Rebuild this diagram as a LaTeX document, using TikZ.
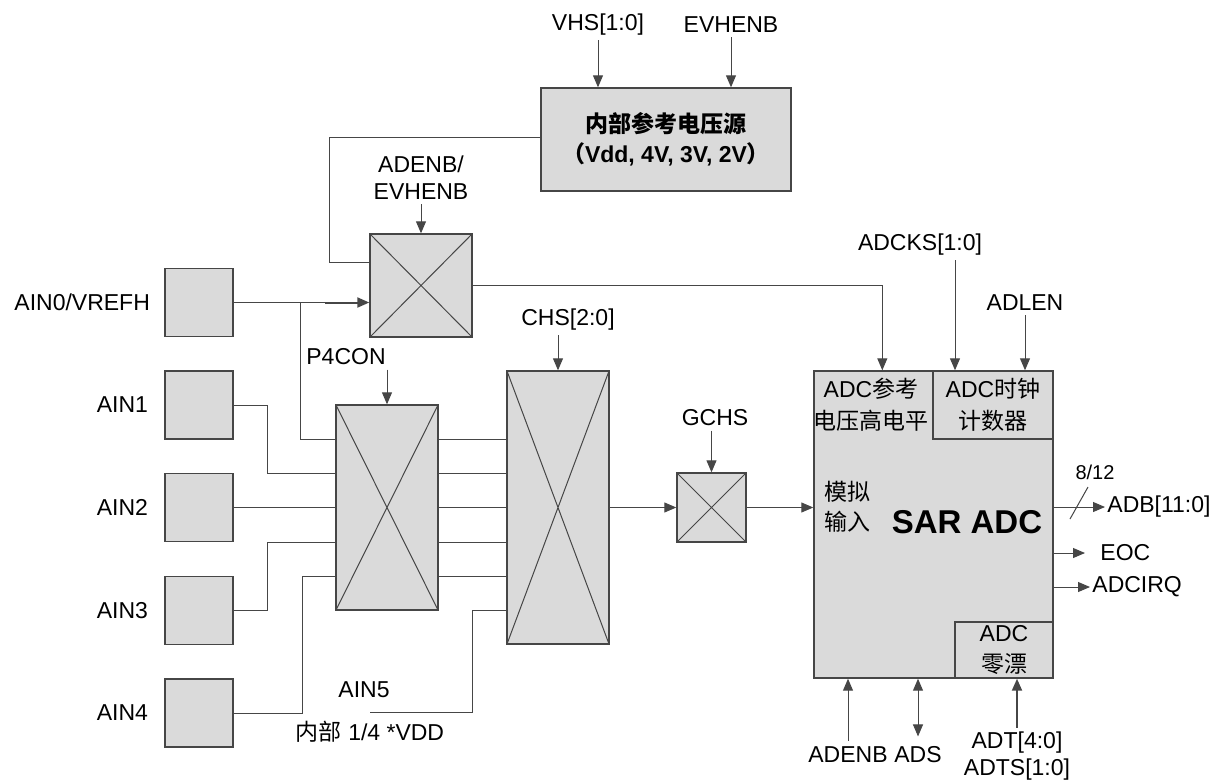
\documentclass[tikz,border=0pt]{standalone}
\usepackage{fontspec}
\setmainfont{Liberation Sans}
\newfontfamily\cjk{Noto Sans CJK SC}
\usetikzlibrary{arrows.meta,positioning}
\definecolor{boxgray}{RGB}{218,218,218}
\definecolor{linegray}{RGB}{70,70,70}
\tikzset{
  box/.style={draw=linegray, fill=boxgray, line width=0.7pt, inner sep=0pt},
  muxbox/.style={box, path picture={
      \draw[linegray, line width=0.5pt]
        (path picture bounding box.north west) -- (path picture bounding box.south east)
        (path picture bounding box.north east) -- (path picture bounding box.south west);}},
  lbl/.style={font=\fontsize{11.5}{13.5}\selectfont, inner sep=2pt, align=center},
  wire/.style={draw=linegray, line width=0.5pt},
  sig/.style={wire, -{Triangle[length=6pt,width=5pt]}},
}
\begin{document}
\begin{tikzpicture}[x=0.5pt, y=-0.5pt]
  \useasboundingbox (0,0) rectangle (1225,782);

  % internal reference source
  \node[box, minimum width=125pt, minimum height=51.5pt, align=center,
        font=\fontsize{11.5}{15}\selectfont\bfseries] (ref) at (666,139.5)
        {{\cjk 内部参考电压源}\\{\cjk （}Vdd, 4V, 3V, 2V{\cjk ）}};
  \node[lbl] (vhs) at (598,25) {VHS[1:0]};
  \node[lbl] (evhenb) at (731,25) {EVHENB};
  \draw[sig] (vhs.south) -- (vhs |- ref.north);
  \draw[sig] (evhenb.south) -- (evhenb |- ref.north);

  % reference switch
  \node[muxbox, minimum width=51pt, minimum height=51.5pt] (sw) at (421,285.5) {};
  \node[lbl] (swctl) at (421,178) {ADENB/\\EVHENB};
  \draw[sig] (swctl.south) -- (swctl |- sw.north);

  % input pads
  \node[box, minimum size=34pt] (ain0) at (199,302.5) {};
  \node[box, minimum size=34pt] (ain1) at (199,405) {};
  \node[box, minimum size=34pt] (ain2) at (199,507.5) {};
  \node[box, minimum size=34pt] (ain3) at (199,610.5) {};
  \node[box, minimum size=34pt] (ain4) at (199,713) {};
  \node[lbl, left=5pt of ain0] {AIN0/VREFH};
  \node[lbl, left=6pt of ain1] {AIN1};
  \node[lbl, left=6pt of ain2] {AIN2};
  \node[lbl, left=6pt of ain3] {AIN3};
  \node[lbl, left=6pt of ain4] {AIN4};

  % port mux, channel mux, gain mux
  \node[muxbox, minimum width=51pt, minimum height=102.5pt] (pmux) at (387,507.5) {};
  \node[lbl] (p4con) at (346,357) {P4CON};
  \draw[sig] (pmux.north |- p4con.south) -- (pmux.north);
  \node[muxbox, minimum width=51pt, minimum height=136.5pt] (cmux) at (558,507.5) {};
  \node[lbl] (chs) at (568,320) {CHS[2:0]};
  \draw[sig] (cmux.north |- chs.south) -- (cmux.north);
  \node[muxbox, minimum size=34.5pt] (gmux) at (711.5,507.5) {};
  \node[lbl] (gchs) at (715,418) {GCHS};
  \draw[sig] (gmux.north |- gchs.south) -- (gmux.north);

  % SAR ADC block
  \node[box, minimum width=119.5pt, minimum height=153.5pt] (adc) at (933.5,524.5) {};
  \node[box, minimum width=60pt, minimum height=34pt, align=center,
        font=\fontsize{11.5}{16}\selectfont] (clk) at (993,405) {ADC{\cjk 时钟}\\{\cjk 计数器}};
  \node[box, minimum width=49pt, minimum height=28pt, align=center,
        font=\fontsize{11.5}{15.5}\selectfont] (zero) at (1004,650) {ADC\\{\cjk 零漂}};
  \node[lbl, font=\fontsize{11.5}{16}\selectfont] (vref) at (871,405) {ADC{\cjk 参考}\\{\cjk 电压高电平}};
  \node[lbl, font=\fontsize{11.5}{15}\selectfont\cjk] (ain) at (847,507) {模拟\\输入};
  \node[font=\fontsize{16.5}{18}\selectfont\bfseries] (sar) at (967,522) {SAR ADC};
  \node[lbl] (adcks) at (920,245) {ADCKS[1:0]};
  \node[lbl] (adlen) at (1025,303) {ADLEN};
  \draw[sig] ([xshift=17.5pt]adcks.south) -- ([xshift=17.5pt]adcks.south |- adc.north);
  \draw[sig] (adlen.south) -- (adlen |- adc.north);

  % analog path
  \coordinate (tap) at (300,302.5);
  \coordinate (tap2) at (325,302.5);
  \draw[wire] (ain0.east) -- (tap2);
  \draw[sig, line width=1pt] (tap2) -- (sw.west |- tap);
  \draw[wire] (tap) |- (pmux.west |- 0,439);
  \coordinate (fb) at (329,262);
  \draw[wire] (ref.west |- 0,137) -| (fb) -- (sw.west |- fb);
  \draw[sig] (sw.east) -| ([xshift=34.5pt]adc.north west);
  \draw[wire] (ain1.east) -- ++(34,0) |- (pmux.west |- 0,473);
  \draw[wire] (ain2.east) -- (pmux.west |- ain2.east);
  \draw[wire] (ain3.east) -- ++(34,0) |- (pmux.west |- 0,542);
  \draw[wire] (ain4.east) -- ++(69,0) |- (pmux.west |- 0,576);
  \foreach \y in {439,473,507.5,542,576}
    \draw[wire] (pmux.east |- 0,\y) -- (cmux.west |- 0,\y);
  \coordinate (ain5end) at (370,712);
  \draw[wire] (ain5end) -- ++(102,0) |- (cmux.west |- 0,610);
  \node[lbl] (ain5) at (364,690) {AIN5};
  \node[lbl] (qvdd) at (370,732) {{\cjk 内部} 1/4 *VDD};
  \draw[sig] (cmux.east) -- (gmux.west);
  \draw[sig] (gmux.east) -- (adc.west |- gmux.east);

  % outputs
  \node[lbl, anchor=west, inner sep=1pt] (adb) at (1105,507) {ADB[11:0]};
  \node[lbl, anchor=west, inner xsep=7.5pt] (eoc) at (1085,553) {EOC};
  \node[lbl, anchor=west, inner sep=1pt] (adcirq) at (1090,587) {ADCIRQ};
  \draw[sig] (adc.east |- adb) -- (adb.west);
  \draw[wire] (1070,519) -- (1088,487);
  \node[lbl, font=\fontsize{10}{12}\selectfont] (width) at (1095,472) {8/12};
  \draw[sig] (adc.east |- eoc) -- (eoc.west);
  \draw[sig] (adc.east |- adcirq) -- (adcirq.west);

  % control inputs below
  \node[lbl, inner sep=3pt] (adenb) at (848,755) {ADENB};
  \node[lbl, inner sep=3pt] (ads) at (918,755) {ADS};
  \node[lbl] (adt) at (1017,756.5) {ADT[4:0]\\ADTS[1:0]};
  \draw[sig] (adenb.north) -- (adenb |- adc.south);
  \draw[sig, {Triangle[length=6pt,width=5pt]}-{Triangle[length=6pt,width=5pt]}] (ads |- adc.south) -- ([yshift=2pt]ads.north);
  \draw[sig, line width=1pt] (adt.north) -- (adt |- adc.south);
\end{tikzpicture}
\end{document}
